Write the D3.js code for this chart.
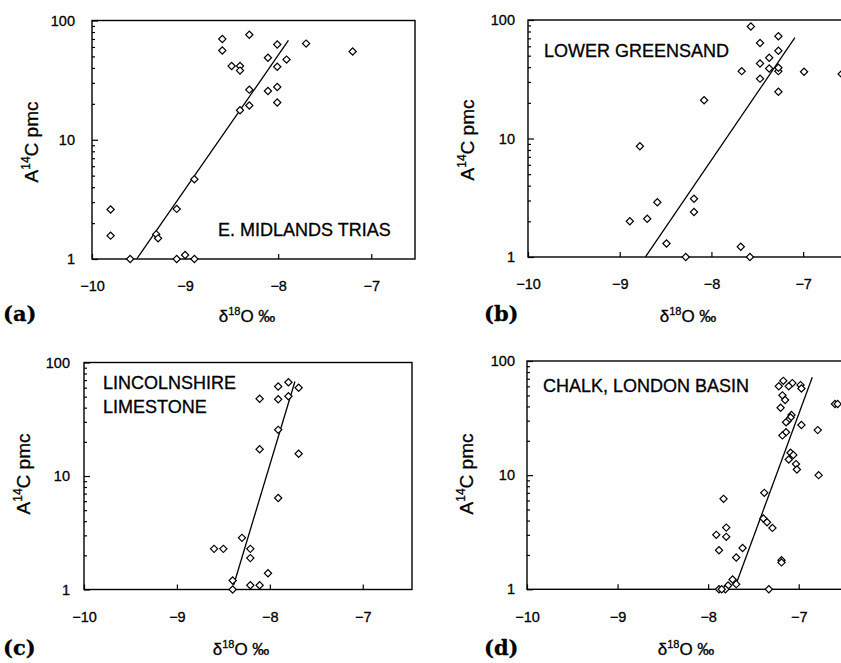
<!DOCTYPE html>
<html>
<head>
<meta charset="utf-8">
<script src="https://cdn.jsdelivr.net/npm/d3@7"></script>
<style>
  body { margin: 0; background: #fff; }
  text { font-family: "Liberation Sans", Arial, sans-serif; fill: #000; stroke: #000; stroke-width: 0.3px; }
</style>
</head>
<body>
<svg id="chart" width="841" height="663"></svg>
<script>
// axis ticks shared by all four panels
const xTicks = [-10, -9, -8, -7];
const yTicks = [1, 10, 100];

// (a) E. Midlands Trias
const triasD18O = [-9.80, -9.80, -9.59, -9.31, -9.29, -9.09, -9.09, -9.00, -8.90, -8.90,
  -8.60, -8.60, -8.50, -8.41, -8.41, -8.31, -8.31, -8.41, -8.31, -8.11,
  -8.11, -8.01, -8.01, -8.01, -8.01, -7.91, -7.70, -7.20];
const triasPmc = [2.6, 1.57, 1.0, 1.61, 1.49, 2.63, 1.0, 1.08, 1.0, 4.67,
  70, 56, 41.5, 41.5, 38, 76, 26.3, 17.7, 19.4, 48.7,
  25.6, 63, 41, 27.7, 20.5, 47, 64, 55];
const triasFitD18O = [-9.52, -7.89];
const triasFitPmc = [1.0, 68];

// (b) Lower Greensand
const greensandD18O = [-7.57, -7.47, -7.27, -7.27, -7.37, -7.47, -7.37, -7.27, -7.27, -7.47,
  -7.67, -7.27, -6.99, -6.58, -8.08, -8.78, -8.89, -8.70, -8.59, -8.19,
  -8.19, -8.49, -8.28, -7.68, -7.58];
const greensandPmc = [88, 64, 73, 55, 48, 43, 39, 37, 39.5, 32,
  37, 24.8, 36.6, 35, 21, 8.6, 2.0, 2.1, 2.9, 3.1,
  2.4, 1.3, 1.0, 1.22, 1.0];
const greensandFitD18O = [-8.72, -7.09];
const greensandFitPmc = [1.0, 71];

// (c) Lincolnshire Limestone
const limestoneD18O = [-7.80, -7.91, -7.69, -8.11, -7.91, -7.80, -7.91, -8.11, -7.69, -7.91,
  -8.30, -8.60, -8.50, -8.21, -8.21, -8.02, -8.40, -8.40, -8.21, -8.11];
const limestonePmc = [67, 61.5, 60, 48, 47.5, 50.5, 25.5, 17.2, 15.7, 6.4,
  2.85, 2.28, 2.28, 2.28, 1.89, 1.39, 1.2, 1.0, 1.09, 1.09];
const limestoneFitD18O = [-8.39, -7.73];
const limestoneFitPmc = [1.09, 68];

// (d) Chalk, London Basin
const chalkD18O = [-7.17, -7.22, -7.07, -7.11, -6.98, -6.97, -7.18, -7.15, -7.20, -7.08,
  -7.09, -7.12, -7.14, -6.97, -7.14, -7.18, -7.09, -7.06, -7.11, -7.03,
  -7.02, -6.79, -6.78, -6.60, -6.57, -7.38, -7.39, -7.35, -7.29, -7.83,
  -7.80, -7.80, -7.91, -7.88, -7.62, -7.69, -7.19, -7.19, -7.73, -7.69,
  -7.78, -7.81, -7.88, -7.85, -7.33];
const chalkPmc = [67, 60, 64, 60, 61.5, 57.5, 50, 45.5, 39, 33.6,
  32, 30, 29, 27.5, 23.8, 22.3, 15.7, 15, 13.7, 12.5,
  11.2, 24.8, 10, 42, 42, 7.0, 4.17, 3.87, 3.45, 6.2,
  3.47, 2.88, 3.0, 2.2, 2.3, 1.9, 1.8, 1.72, 1.22, 1.11,
  1.08, 1.0, 1.0, 1.0, 1.0];
const chalkFitD18O = [-7.69, -6.85];
const chalkFitPmc = [1.12, 72];

const svg = d3.select('#chart');
svg.append('rect').attr('width', 841).attr('height', 663).attr('fill', '#fff');

// panel layout: pixel boxes, label spots
const panels = [
  { letter: '(a)', xd: [-10, -6.53], xr: [92, 415], yr: [259, 20.5], pad: 17,
    d18O: triasD18O, pmc: triasPmc, fitX: triasFitD18O, fitY: triasFitPmc,
    name: ['E. MIDLANDS TRIAS'], nameX: 218, nameY: 236,
    letterX: 3, letterY: 321, xlabX: 247, xlabY: 322, ylabX: 38, ylabY: 142 },
  { letter: '(b)', xd: [-10, -6.5], xr: [528, 849], yr: [257, 20], pad: 13,
    d18O: greensandD18O, pmc: greensandPmc, fitX: greensandFitD18O, fitY: greensandFitPmc,
    name: ['LOWER GREENSAND'], nameX: 544, nameY: 57,
    letterX: 484, letterY: 321, xlabX: 688, xlabY: 322, ylabX: 474, ylabY: 140 },
  { letter: '(c)', xd: [-10, -6.47], xr: [84, 412], yr: [589.5, 362.5], pad: 14,
    d18O: limestoneD18O, pmc: limestonePmc, fitX: limestoneFitD18O, fitY: limestoneFitPmc,
    name: ['LINCOLNSHIRE', 'LIMESTONE'], nameX: 103, nameY: 389,
    letterX: 3, letterY: 655, xlabX: 241, xlabY: 655, ylabX: 30, ylabY: 474 },
  { letter: '(d)', xd: [-10, -6.5], xr: [527, 844], yr: [589.3, 361], pad: 12,
    d18O: chalkD18O, pmc: chalkPmc, fitX: chalkFitD18O, fitY: chalkFitPmc,
    name: ['CHALK, LONDON BASIN'], nameX: 543, nameY: 392,
    letterX: 484, letterY: 655, xlabX: 686, xlabY: 655, ylabX: 473, ylabY: 474 }
];

const diamond = d3.symbol(d3.symbolSquare, 26);

function drawPanel(p) {
  const x = d3.scaleLinear().domain(p.xd).range(p.xr);
  const y = d3.scaleLog().domain([1, 100]).range(p.yr);
  const g = svg.append('g');

  // frame
  g.append('rect')
    .attr('x', p.xr[0]).attr('y', p.yr[1])
    .attr('width', p.xr[1] - p.xr[0]).attr('height', p.yr[0] - p.yr[1])
    .attr('fill', 'none').attr('stroke', '#000').attr('stroke-width', 1.4);

  // minor log ticks, pointing inwards
  const minor = y.ticks().filter(t => !yTicks.includes(t));
  g.append('g')
    .attr('transform', 'translate(' + p.xr[0] + ',0)')
    .call(d3.axisLeft(y).tickValues(minor).tickSize(-3).tickFormat(''))
    .call(s => s.select('.domain').remove());

  // major y ticks + labels
  g.append('g')
    .attr('transform', 'translate(' + p.xr[0] + ',0)')
    .call(d3.axisLeft(y).tickValues(yTicks).tickSize(-6).tickPadding(p.pad).tickFormat(d3.format('d')))
    .call(s => s.select('.domain').remove())
    .call(s => s.selectAll('text').attr('font-family', null).style('font-size', '14.5px'));

  // x ticks + labels
  g.append('g')
    .attr('transform', 'translate(0,' + p.yr[0] + ')')
    .call(d3.axisBottom(x).tickValues(xTicks).tickSize(-5).tickPadding(22).tickFormat(d3.format('d')))
    .call(s => s.select('.domain').remove())
    .call(s => s.selectAll('text').attr('font-family', null).style('font-size', '14.5px'));

  g.selectAll('.tick line').attr('stroke-width', 1.2);

  // regression line
  const fit = d3.zip(p.fitX, p.fitY);
  g.append('path')
    .attr('d', d3.line().x(d => x(d[0])).y(d => y(d[1]))(fit))
    .attr('fill', 'none').attr('stroke', '#000').attr('stroke-width', 1.3);

  // samples
  g.selectAll('path.pt')
    .data(d3.zip(p.d18O, p.pmc))
    .join('path')
    .attr('class', 'pt')
    .attr('transform', d => 'translate(' + x(d[0]) + ',' + y(d[1]) + ') rotate(45)')
    .attr('d', diamond)
    .attr('fill', '#fff').attr('stroke', '#000').attr('stroke-width', 1.2);

  // aquifer name
  p.name.forEach((line, i) => {
    g.append('text')
      .attr('x', p.nameX).attr('y', p.nameY + i * 24)
      .style('font-size', '18px')
      .text(line);
  });

  // x title
  const xt = g.append('text')
    .attr('x', p.xlabX).attr('y', p.xlabY)
    .attr('text-anchor', 'middle')
    .style('font-size', '17px');
  xt.append('tspan').text('δ');
  xt.append('tspan').attr('dy', -7).style('font-size', '11px').text('18');
  xt.append('tspan').attr('dy', 7).text('O ‰');

  // y title
  const yt = g.append('text')
    .attr('transform', 'translate(' + p.ylabX + ',' + p.ylabY + ') rotate(-90)')
    .attr('text-anchor', 'middle')
    .style('font-size', '19px');
  yt.append('tspan').text('A');
  yt.append('tspan').attr('dy', -8).style('font-size', '12px').text('14');
  yt.append('tspan').attr('dy', 8).text('C pmc');

  // panel letter
  g.append('text')
    .attr('x', p.letterX).attr('y', p.letterY)
    .style('font-family', '"DejaVu Serif", serif')
    .style('font-weight', 'bold')
    .style('font-size', '21px')
    .text(p.letter);
}

panels.forEach(drawPanel);
</script>
</body>
</html>
